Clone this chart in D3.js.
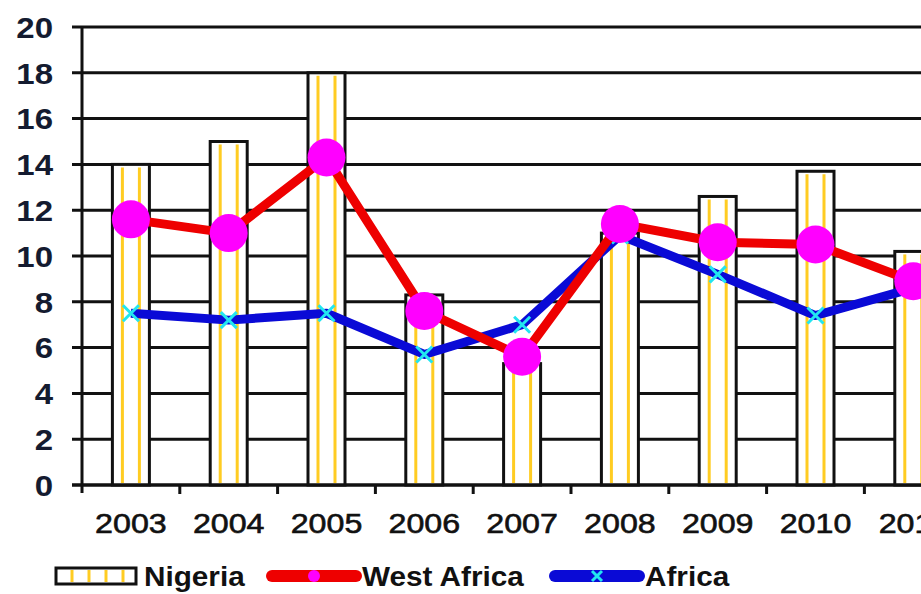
<!DOCTYPE html>
<html>
<head>
<meta charset="utf-8">
<script src="https://cdn.jsdelivr.net/npm/d3@7"></script>
<style>
  body { margin: 0; background: #fff; }
  svg { display: block; font-family: "Liberation Sans", Arial, sans-serif; }
</style>
</head>
<body>
<div id="chart"></div>
<script>
const years = ['2003', '2004', '2005', '2006', '2007', '2008', '2009', '2010', '2011'];
const nigeria = [14, 15, 18, 8.3, 5.3, 11, 12.6, 13.7, 10.2];
const westAfrica = [11.6, 11.0, 14.3, 7.6, 5.6, 11.4, 10.6, 10.5, 8.9];
const africa = [7.5, 7.2, 7.5, 5.7, 7.0, 10.9, 9.2, 7.4, 8.6];
const yTicks = [0, 2, 4, 6, 8, 10, 12, 14, 16, 18, 20];

const width = 921;
const height = 594;

const svg = d3.select('#chart')
  .append('svg')
  .attr('width', width)
  .attr('height', height);

// plot runs past the right edge, like the cropped original
const x = d3.scaleBand()
  .domain(years)
  .range([82, 82 + 9 * 97.8])
  .padding(0);

const y = d3.scaleLinear()
  .domain([0, 20])
  .range([485, 27]);

const barW = 37;
const cx = d => x(d) + x.bandwidth() / 2;

// gridlines
svg.append('g')
  .selectAll('line')
  .data(yTicks)
  .enter()
  .append('line')
  .attr('x1', 72)
  .attr('x2', width)
  .attr('y1', d => y(d))
  .attr('y2', d => y(d))
  .attr('stroke', '#111')
  .attr('stroke-width', 3);

// y labels (the original is a bit stretched sideways)
svg.append('g')
  .selectAll('text')
  .data(yTicks)
  .enter()
  .append('text')
  .attr('transform', d => `translate(53,${y(d)}) scale(1.1,1)`)
  .attr('dy', '0.36em')
  .attr('text-anchor', 'end')
  .attr('font-size', 30)
  .attr('font-weight', 'bold')
  .attr('fill', '#141b30')
  .text(d => d);

// bars with yellow stripes
const bars = svg.append('g')
  .selectAll('g')
  .data(years)
  .enter()
  .append('g');

bars.append('rect')
  .attr('x', d => cx(d) - barW / 2)
  .attr('y', (d, i) => y(nigeria[i]))
  .attr('width', barW)
  .attr('height', (d, i) => y(0) - y(nigeria[i]))
  .attr('fill', '#fff')
  .attr('stroke', '#111')
  .attr('stroke-width', 3);

[-8.5, 8.5].forEach(off => {
  bars.append('line')
    .attr('x1', d => cx(d) + off)
    .attr('x2', d => cx(d) + off)
    .attr('y1', (d, i) => y(nigeria[i]) + 3)
    .attr('y2', y(0) - 2)
    .attr('stroke', '#ffcc22')
    .attr('stroke-width', 3);
});

// axes
svg.append('line')
  .attr('x1', 82).attr('x2', 82)
  .attr('y1', y(20)).attr('y2', y(0) + 8)
  .attr('stroke', '#111')
  .attr('stroke-width', 3);

svg.append('line')
  .attr('x1', 72).attr('x2', width)
  .attr('y1', y(0)).attr('y2', y(0))
  .attr('stroke', '#111')
  .attr('stroke-width', 3);

svg.append('g')
  .selectAll('line')
  .data(years)
  .enter()
  .append('line')
  .attr('x1', d => x(d) + x.bandwidth())
  .attr('x2', d => x(d) + x.bandwidth())
  .attr('y1', y(0))
  .attr('y2', y(0) + 9)
  .attr('stroke', '#111')
  .attr('stroke-width', 3);

svg.append('g')
  .selectAll('text')
  .data(years)
  .enter()
  .append('text')
  .attr('transform', d => `translate(${cx(d)},533) scale(1.15,1)`)
  .attr('text-anchor', 'middle')
  .attr('font-size', 28)
  .attr('fill', '#111')
  .attr('stroke', '#111')
  .attr('stroke-width', 0.6)
  .text(d => d);

// Africa line
svg.append('path')
  .datum(africa)
  .attr('fill', 'none')
  .attr('stroke', '#0a0ad6')
  .attr('stroke-width', 9)
  .attr('stroke-linejoin', 'round')
  .attr('d', d3.line().x((d, i) => cx(years[i])).y(d => y(d)));

const cross = 8;
svg.append('g')
  .selectAll('path')
  .data(africa)
  .enter()
  .append('path')
  .attr('d', (d, i) => {
    const px = cx(years[i]);
    const py = y(d);
    return `M${px - cross},${py - cross}L${px + cross},${py + cross}M${px - cross},${py + cross}L${px + cross},${py - cross}`;
  })
  .attr('stroke', '#22e6f0')
  .attr('stroke-width', 3);

// West Africa line
svg.append('path')
  .datum(westAfrica)
  .attr('fill', 'none')
  .attr('stroke', '#ee0000')
  .attr('stroke-width', 9)
  .attr('stroke-linejoin', 'round')
  .attr('d', d3.line().x((d, i) => cx(years[i])).y(d => y(d)));

svg.append('g')
  .selectAll('circle')
  .data(westAfrica)
  .enter()
  .append('circle')
  .attr('cx', (d, i) => cx(years[i]))
  .attr('cy', d => y(d))
  .attr('r', 19)
  .attr('fill', '#ff00ff');

// legend
const legend = svg.append('g');
const ly = 576;

legend.append('rect')
  .attr('x', 56).attr('y', 568)
  .attr('width', 80).attr('height', 16)
  .attr('fill', '#fff')
  .attr('stroke', '#111')
  .attr('stroke-width', 3);

[72, 89, 106, 123].forEach(sx => {
  legend.append('line')
    .attr('x1', sx).attr('x2', sx)
    .attr('y1', 570).attr('y2', 582)
    .attr('stroke', '#ffcc22')
    .attr('stroke-width', 3);
});

legend.append('line')
  .attr('x1', 272).attr('x2', 356)
  .attr('y1', ly).attr('y2', ly)
  .attr('stroke', '#ee0000')
  .attr('stroke-width', 12)
  .attr('stroke-linecap', 'round');
legend.append('circle')
  .attr('cx', 314).attr('cy', ly).attr('r', 6)
  .attr('fill', '#ff00ff');

legend.append('line')
  .attr('x1', 555).attr('x2', 639)
  .attr('y1', ly).attr('y2', ly)
  .attr('stroke', '#0a0ad6')
  .attr('stroke-width', 12)
  .attr('stroke-linecap', 'round');
legend.append('path')
  .attr('d', `M${597 - 5},${ly - 5}L${597 + 5},${ly + 5}M${597 - 5},${ly + 5}L${597 + 5},${ly - 5}`)
  .attr('stroke', '#22e6f0')
  .attr('stroke-width', 3);

const legendText = [['Nigeria', 144], ['West Africa', 362], ['Africa', 645]];
legend.selectAll('text')
  .data(legendText)
  .enter()
  .append('text')
  .attr('transform', d => `translate(${d[1]},${ly}) scale(1.1,1)`)
  .attr('dy', '0.36em')
  .attr('font-size', 27)
  .attr('font-weight', 'bold')
  .attr('fill', '#111')
  .text(d => d[0]);
</script>
</body>
</html>
